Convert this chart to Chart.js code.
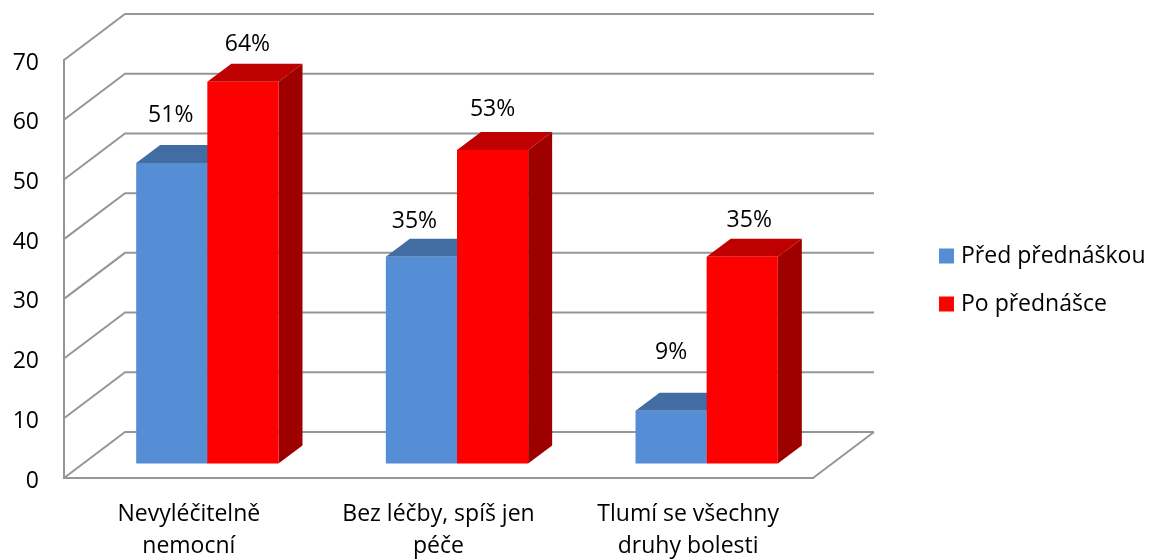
<!DOCTYPE html>
<html>
<head>
<meta charset="utf-8">
<script src="https://cdn.jsdelivr.net/npm/chart.js@4"></script>
<style>
    html, body { margin: 0; background: #fff; }
    canvas { display: block; }
</style>
</head>
<body>
<canvas id="bolestChart" width="1149" height="559"></canvas>
<script>
const categories = [['Nevyléčitelně', 'nemocní'], ['Bez léčby, spíš jen', 'péče'], ['Tlumí se všechny', 'druhy bolesti']];
const seriesNames = ['Před přednáškou', 'Po přednášce'];
const predValues = [50.4, 34.7, 8.9];
const poValues = [64, 52.6, 34.7];
const predLabels = ['51%', '35%', '9%'];
const poLabels = ['64%', '53%', '35%'];
const yTicksMax = 70;

const gridColor = '#969696';
const textFont = { family: 'Open Sans', size: 23 };

// the fake 3D: back wall offset, bar offset from front plane and bar depth
const wall = { dx: 61, dy: -46 };
const barShift = { dx: 18.5, dy: -14 };
const barDepth = { dx: 24, dy: -18 };
const faces = [
    { top: '#426DA3', side: '#36598A' },
    { top: '#BF0000', side: '#9E0000' }
];
const barLabels = [predLabels, poLabels];
// labels were placed by hand in the original, so nudge them per series/category
const labelNudge = [
    [{ x: -1, y: -47.5 }, { x: -7, y: -35.5 }, { x: 0, y: -58 }],
    [{ x: 4.5, y: -37 }, { x: 0, y: -40.5 }, { x: 7, y: -36 }]
];

function line(ctx, points) {
    ctx.beginPath();
    points.forEach((p, i) => i ? ctx.lineTo(p[0], p[1]) : ctx.moveTo(p[0], p[1]));
    ctx.stroke();
}

function poly(ctx, points, color) {
    ctx.fillStyle = color;
    ctx.beginPath();
    points.forEach((p, i) => i ? ctx.lineTo(p[0], p[1]) : ctx.moveTo(p[0], p[1]));
    ctx.closePath();
    ctx.fill();
}

const walls3d = {
    id: 'walls3d',
    afterLayout(chart) {
        // legend sits outside the chart area, right of the back wall
        const legend = chart.legend;
        legend.left = 918.5;
        legend.top = 219.5;
        legend.right = 1149;
        legend.bottom = 400;
    },
    beforeDatasetsDraw(chart) {
        const { ctx, chartArea, scales } = chart;
        ctx.save();
        ctx.strokeStyle = gridColor;
        ctx.lineWidth = 2;
        scales.y.ticks.forEach(tick => {
            const y = scales.y.getPixelForValue(tick.value);
            line(ctx, [
                [chartArea.left, y],
                [chartArea.left + wall.dx, y + wall.dy],
                [chartArea.right + wall.dx, y + wall.dy]
            ]);
        });
        line(ctx, [
            [chartArea.right, chartArea.bottom],
            [chartArea.right + wall.dx, chartArea.bottom + wall.dy]
        ]);
        ctx.restore();
    },
    // Chart.js paints the first dataset last, here the red bar has to cover the blue one
    beforeDatasetDraw() {
        return false;
    },
    afterDatasetsDraw(chart) {
        const ctx = chart.ctx;
        const d = barDepth;
        ctx.save();
        ctx.translate(barShift.dx, barShift.dy);
        chart.data.datasets.forEach((ds, s) => {
            chart.getDatasetMeta(s).data.forEach(bar => {
                const left = bar.x - bar.width / 2;
                const right = bar.x + bar.width / 2;
                poly(ctx, [[left, bar.y], [left + d.dx, bar.y + d.dy], [right + d.dx, bar.y + d.dy], [right, bar.y]], faces[s].top);
                poly(ctx, [[right, bar.y], [right + d.dx, bar.y + d.dy], [right + d.dx, bar.base + d.dy], [right, bar.base]], faces[s].side);
                bar.draw(ctx);
            });
        });
        ctx.restore();

        ctx.save();
        ctx.font = textFont.size + 'px ' + textFont.family;
        ctx.fillStyle = '#000';
        ctx.textAlign = 'center';
        ctx.textBaseline = 'middle';
        chart.data.datasets.forEach((ds, s) => {
            chart.getDatasetMeta(s).data.forEach((bar, i) => {
                const nudge = labelNudge[s][i];
                ctx.fillText(barLabels[s][i], bar.x + barShift.dx + nudge.x, bar.y + barShift.dy + nudge.y);
            });
        });
        ctx.restore();
    }
};

new Chart(document.getElementById('bolestChart').getContext('2d'), {
    type: 'bar',
    data: {
        labels: categories,
        datasets: [
            { label: seriesNames[0], data: predValues, backgroundColor: '#558ED5' },
            { label: seriesNames[1], data: poValues, backgroundColor: '#FF0000' }
        ]
    },
    options: {
        responsive: false,
        animation: false,
        layout: { padding: { left: 0, top: 60, right: 336, bottom: 0 } },
        datasets: { bar: { categoryPercentage: 0.57, barPercentage: 1 } },
        scales: {
            x: {
                grid: { drawOnChartArea: false, drawTicks: false },
                border: { color: gridColor, width: 2 },
                ticks: { color: '#000', font: { ...textFont, lineHeight: 1.39 }, padding: 20, maxRotation: 0 },
                afterFit(scale) { scale.height = 81; }
            },
            y: {
                min: 0,
                max: yTicksMax,
                grid: { drawOnChartArea: false, drawTicks: false },
                border: { color: gridColor, width: 2 },
                ticks: { color: '#000', font: textFont, stepSize: 10, padding: 25, labelOffset: 3 },
                afterFit(scale) { scale.width = 64; }
            }
        },
        plugins: {
            legend: {
                position: 'chartArea',
                align: 'start',
                labels: {
                    color: '#000',
                    font: textFont,
                    // small box + thick border: keeps the 15px swatch closer to the text than the default gap
                    boxWidth: 6,
                    boxHeight: 6,
                    padding: 25,
                    generateLabels(chart) {
                        return chart.data.datasets.map((ds, i) => ({
                            text: ds.label,
                            fillStyle: ds.backgroundColor,
                            strokeStyle: ds.backgroundColor,
                            lineWidth: 9,
                            datasetIndex: i
                        }));
                    }
                }
            },
            tooltip: { enabled: false }
        }
    },
    plugins: [walls3d]
});
</script>
</body>
</html>
